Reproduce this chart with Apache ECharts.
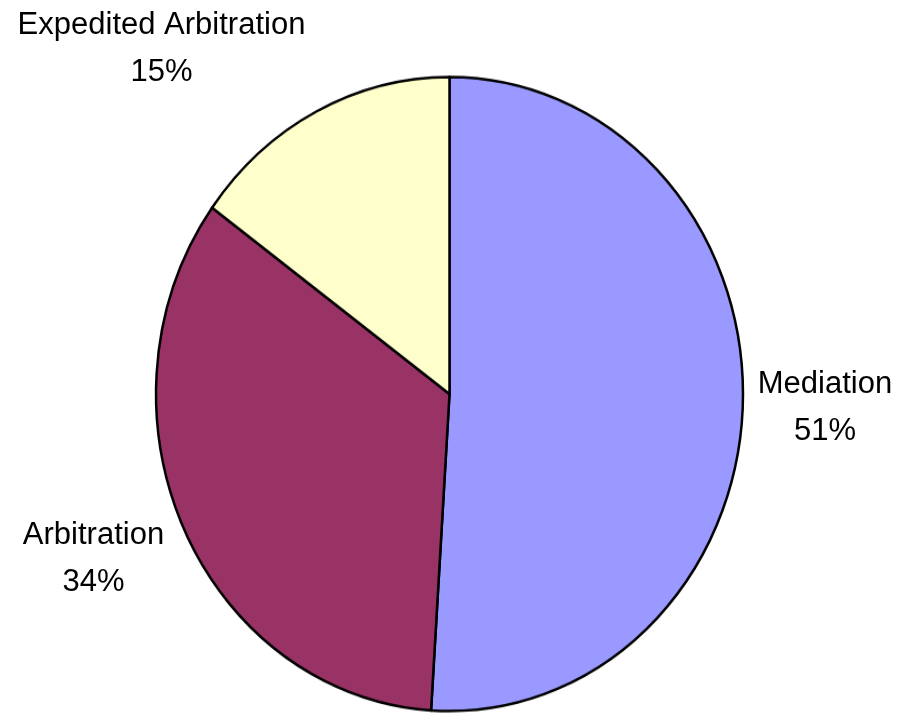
<!DOCTYPE html>
<html>
<head>
<meta charset="utf-8">
<script src="https://cdn.jsdelivr.net/npm/echarts@6/dist/echarts.min.js"></script>
<style>
html,body{margin:0;padding:0;background:#fff;}
#wrap{position:relative;width:898px;height:714px;overflow:hidden;}
#pie{position:absolute;left:0;top:0;width:898px;height:714px;transform:scaleY(1.0801);transform-origin:449.5px 394px;}
#lab{position:absolute;left:0;top:0;width:898px;height:714px;}
</style>
</head>
<body>
<div id="wrap"><div id="pie"></div><div id="lab"></div></div>
<script>
var categories = ["Mediation", "Arbitration", "Expedited Arbitration"];
var values = [51, 34, 15];
var colors = ["#9999FF", "#993366", "#FFFFCC"];

var total = values.reduce(function (a, b) { return a + b; }, 0);
var data = categories.map(function (c, i) { return { name: c, value: values[i] }; });

var pieChart = echarts.init(document.getElementById('pie'), null, { renderer: 'canvas' });
pieChart.setOption({
  animation: false,
  series: [{
    type: 'pie',
    center: [449.5, 394],
    radius: [0, 293.5],
    startAngle: 90,
    clockwise: true,
    label: { show: false },
    labelLine: { show: false },
    silent: true,
    data: data.map(function (d, i) {
      return { name: d.name, value: d.value, itemStyle: { color: colors[i], borderColor: '#000', borderWidth: 2.5 } };
    })
  }]
});

var labelPos = [[825, 408], [93.5, 559], [161.5, 49]];
var labChart = echarts.init(document.getElementById('lab'), null, { renderer: 'canvas' });
labChart.setOption({
  animation: false,
  graphic: categories.map(function (c, i) {
    return {
      type: 'text',
      x: labelPos[i][0],
      y: labelPos[i][1],
      silent: true,
      style: {
        text: c + '\n' + Math.round(values[i] / total * 100) + '%',
        fontFamily: 'Liberation Sans, Arial, sans-serif',
        fontSize: 31,
        lineHeight: 47,
        fill: '#000',
        align: 'center',
        verticalAlign: 'middle'
      }
    };
  })
});
</script>
</body>
</html>
